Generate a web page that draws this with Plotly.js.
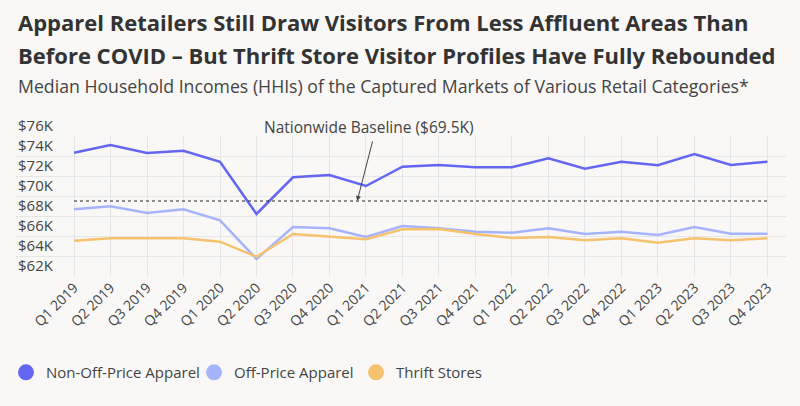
<!DOCTYPE html>
<html>
<head>
<meta charset="utf-8">
<script src="https://cdn.plot.ly/plotly-3.0.1.min.js"></script>
<style>html,body{margin:0;padding:0;background:#F9F8F6;}</style>
</head>
<body>
<div id="chart" style="width:800px;height:406px;"></div>
<script>
const quarters = ["Q1 2019","Q2 2019","Q3 2019","Q4 2019","Q1 2020","Q2 2020","Q3 2020","Q4 2020","Q1 2021","Q2 2021","Q3 2021","Q4 2021","Q1 2022","Q2 2022","Q3 2022","Q4 2022","Q1 2023","Q2 2023","Q3 2023","Q4 2023"];
const nonOffPrice = [74.33,75.1,74.3,74.53,73.43,68.2,71.87,72.1,71.0,72.93,73.1,72.87,72.87,73.77,72.73,73.43,73.07,74.2,73.1,73.43];
const offPrice = [68.67,68.97,68.3,68.67,67.57,63.7,66.9,66.77,65.9,67.0,66.77,66.43,66.33,66.77,66.2,66.43,66.1,66.9,66.23,66.23];
const thrift = [65.53,65.77,65.77,65.77,65.43,63.93,66.2,65.9,65.67,66.67,66.7,66.2,65.8,65.9,65.57,65.77,65.33,65.77,65.57,65.77];
const baseline = 69.5;
const seriesNames = ["Non-Off-Price Apparel","Off-Price Apparel","Thrift Stores"];
const colors = ["#6366F1","#A5B4FC","#F6C26E"];

const F = "Open Sans, sans-serif";
const series = [nonOffPrice, offPrice, thrift];
const legendIds = ["legend","legend2","legend3"];
const traces = [];
series.forEach((s,i)=>{
  traces.push({x:quarters,y:s,type:"scatter",mode:"lines",line:{color:colors[i],width:2.5},showlegend:false,hoverinfo:"skip"});
});
seriesNames.forEach((n,i)=>{
  traces.push({x:[null],y:[null],type:"scatter",mode:"markers",name:n,legend:legendIds[i],marker:{color:colors[i],size:18,symbol:"circle"},showlegend:true});
});

function leg(x){
  return {orientation:"h",x:x,xanchor:"left",y:-0.69,yanchor:"middle",font:{family:F,size:15,color:"#444"},itemwidth:30,bgcolor:"rgba(0,0,0,0)"};
}

const layout = {
  width:800,height:406,
  paper_bgcolor:"#F9F8F6",plot_bgcolor:"#F9F8F6",
  margin:{l:16,r:14,t:136,b:130,autoexpand:false},
  font:{family:F,color:"#444"},
  showlegend:true,
  legend:leg(-0.013),
  legend2:leg(0.2312),
  legend3:leg(0.4416),
  xaxis:{type:"category",range:[-1.59,19.51],showgrid:true,gridcolor:"#E6E6E6",gridwidth:1,showline:false,zeroline:false,ticks:"",tickangle:-45,tickfont:{family:F,size:14,color:"#444"},fixedrange:true,automargin:false},
  yaxis:{range:[62,76],dtick:2,tick0:62,showgrid:true,gridcolor:"#E6E6E6",gridwidth:1,zeroline:false,showline:false,ticks:"",tickprefix:"$",ticksuffix:"K",ticklabelposition:"inside",ticklabelshift:-10,ticklabelstandoff:-1,ticklabeloverflow:"allow",tickfont:{family:F,size:15,color:"#444"},fixedrange:true,automargin:false},
  shapes:[{type:"line",xref:"x",yref:"y",x0:0,x1:19,y0:baseline,y1:baseline,line:{color:"#222",width:1.2,dash:"dot"}}],
  annotations:[
    {xref:"paper",yref:"paper",x:0.0,xanchor:"left",y:1.814,yanchor:"middle",showarrow:false,text:"<b>Apparel Retailers Still Draw Visitors From Less Affluent Areas Than</b>",font:{family:F,size:22,color:"#333"}},
    {xref:"paper",yref:"paper",x:0.0,xanchor:"left",y:1.579,yanchor:"middle",showarrow:false,text:"<b>Before COVID – But Thrift Store Visitor Profiles Have Fully Rebounded</b>",font:{family:F,size:22,color:"#333"}},
    {xref:"paper",yref:"paper",x:0.0,xanchor:"left",y:1.357,yanchor:"middle",showarrow:false,text:"Median Household Incomes (HHIs) of the Captured Markets of Various Retail Categories*",font:{family:F,size:17.7,color:"#444"}},
    {xref:"x",yref:"paper",x:8.08,y:1.064,yanchor:"middle",showarrow:false,text:"Nationwide Baseline ($69.5K)",font:{family:F,size:15.5,color:"#444"}},
    {xref:"x",yref:"y",x:7.76,y:baseline,axref:"x",ayref:"y",ax:8.19,ay:75.6,showarrow:true,arrowhead:2,arrowsize:1,arrowwidth:1,arrowcolor:"#444",text:""}
  ]
};
Plotly.newPlot("chart",traces,layout,{displayModeBar:false,staticPlot:true});
</script>
</body>
</html>
